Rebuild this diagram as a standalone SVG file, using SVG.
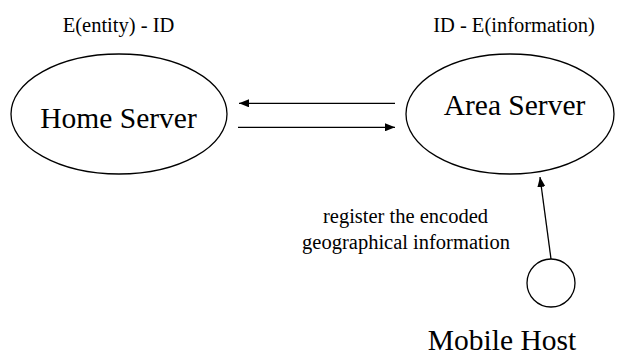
<svg xmlns="http://www.w3.org/2000/svg" width="618" height="356" viewBox="0 0 618 356">
<style>
.shape{fill:#fff;stroke:#000;stroke-width:1.3}
text{font-family:'Liberation Serif','Times New Roman',Times,'DejaVu Serif',serif;fill:#000;text-anchor:middle}
.big{font-size:29.5px}
.small{font-size:20.5px}
.conn line{stroke:#000;stroke-width:1.3}
</style>
<defs>
<marker id="ah" markerWidth="10" markerHeight="8" refX="10" refY="4" orient="auto" markerUnits="userSpaceOnUse">
<path d="M0,0 L10,4 L0,8 Z" fill="#000"/>
</marker>
</defs>
<rect width="618" height="356" fill="#fff"/>
<g id="home-server">
<ellipse class="shape" cx="119" cy="114" rx="108" ry="60"/>
<text class="big" font-family="Liberation Serif, serif" x="118.5" y="128">Home Server</text>
<text class="small" font-family="Liberation Serif, serif" x="118.5" y="32">E(entity) - ID</text>
</g>
<g id="area-server">
<ellipse class="shape" cx="510" cy="114" rx="104" ry="60"/>
<text class="big" font-family="Liberation Serif, serif" x="514.5" y="115">Area Server</text>
<text class="small" font-family="Liberation Serif, serif" x="514" y="32">ID - E(information)</text>
</g>
<g id="mobile-host">
<circle class="shape" cx="551" cy="283" r="24"/>
<text class="big" font-family="Liberation Serif, serif" x="502" y="350">Mobile Host</text>
</g>
<g id="connectors" class="conn">
<line x1="395" y1="103.3" x2="239" y2="103.3" marker-end="url(#ah)"/>
<line x1="238" y1="127.3" x2="395" y2="127.3" marker-end="url(#ah)"/>
<line x1="551" y1="259" x2="540" y2="177" marker-end="url(#ah)"/>
<text class="small" font-family="Liberation Serif, serif" x="405.5" y="223">register the encoded</text>
<text class="small" font-family="Liberation Serif, serif" x="406" y="249">geographical information</text>
</g>
</svg>
